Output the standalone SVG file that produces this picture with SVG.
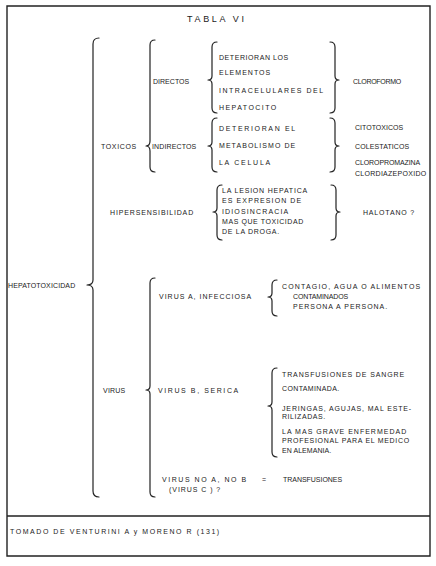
<svg xmlns="http://www.w3.org/2000/svg" width="436" height="566" viewBox="0 0 436 566">
<style>
text{font-family:"Liberation Sans",Arial,sans-serif;font-size:7px;fill:#222;letter-spacing:0.8px}
.t{font-size:9px;letter-spacing:3px}
.b{fill:none;stroke:#222;stroke-width:1.2;stroke-linecap:round;stroke-linejoin:round}
.f{fill:none;stroke:#222;stroke-width:1.4}
</style>
<rect width="436" height="566" fill="#fff"/>
<g id="frame">
<path class="f" d="M7 6 H430 V556 H7 Z M7 516 H430"/>
</g>
<g id="title"><text class="t" x="187" y="22" textLength="60" lengthAdjust="spacing">TABLA VI</text></g>
<g id="connectors">
<path class="b" d="M99 38 Q93 38 93 44 L93 280 Q93 285 87 285 Q93 285 93 290 L93 491 Q93 497 99 497"/>
<path class="b" d="M155 40 Q150 40 150 45 L150 141 Q150 146 146 146 Q150 146 150 151 L150 167 Q150 172 155 172"/>
<path class="b" d="M217 42 Q212 42 212 47 L212 76 Q212 80 208 80 Q212 80 212 84 L212 108 Q212 113 217 113"/>
<path class="b" d="M330 42 Q335 42 335 47 L335 76 Q335 80 339 80 Q335 80 335 84 L335 108 Q335 113 330 113"/>
<path class="b" d="M217 118 Q212 118 212 123 L212 142 Q212 146 208 146 Q212 146 212 150 L212 167 Q212 172 217 172"/>
<path class="b" d="M330 118 Q335 118 335 123 L335 142 Q335 146 339 146 Q335 146 335 150 L335 167 Q335 172 330 172"/>
<path class="b" d="M222 185 Q217 185 217 190 L217 208 Q217 212 213 212 Q217 212 217 216 L217 235 Q217 240 222 240"/>
<path class="b" d="M331 185 Q336 185 336 190 L336 208 Q336 212 340 212 Q336 212 336 216 L336 235 Q336 240 331 240"/>
<path class="b" d="M155 278 Q150 278 150 283 L150 386 Q150 390 146 390 Q150 390 150 394 L150 492 Q150 497 155 497"/>
<path class="b" d="M277 280 Q272 280 272 285 L272 293 Q272 297 268 297 Q272 297 272 301 L272 311 Q272 316 277 316"/>
<path class="b" d="M277 368 Q272 368 272 373 L272 402 Q272 406 268 406 Q272 406 272 410 L272 452 Q272 457 277 457"/>
</g>
<g id="hepatotoxicidad"><text x="8" y="288" textLength="68" lengthAdjust="spacing">HEPATOTOXICIDAD</text></g>
<g id="toxicos"><text x="101" y="149" textLength="36" lengthAdjust="spacing">TOXICOS</text></g>
<g id="directos"><text x="153" y="84" textLength="37" lengthAdjust="spacing">DIRECTOS</text></g>
<g id="directos-desc">
<text x="219" y="60" textLength="70" lengthAdjust="spacing">DETERIORAN LOS</text>
<text x="219" y="75" textLength="52" lengthAdjust="spacing">ELEMENTOS</text>
<text x="219" y="93" textLength="105" lengthAdjust="spacing">INTRACELULARES DEL</text>
<text x="219" y="110" textLength="58" lengthAdjust="spacing">HEPATOCITO</text>
</g>
<g id="cloroformo"><text x="353" y="84" textLength="49" lengthAdjust="spacing">CLOROFORMO</text></g>
<g id="indirectos"><text x="152" y="149" textLength="45" lengthAdjust="spacing">INDIRECTOS</text></g>
<g id="indirectos-desc">
<text x="219" y="131" textLength="77" lengthAdjust="spacing">DETERIORAN EL</text>
<text x="219" y="148" textLength="77" lengthAdjust="spacing">METABOLISMO DE</text>
<text x="219" y="165" textLength="52" lengthAdjust="spacing">LA CELULA</text>
</g>
<g id="indirectos-ej">
<text x="355" y="130" textLength="49" lengthAdjust="spacing">CITOTOXICOS</text>
<text x="355" y="149" textLength="55" lengthAdjust="spacing">COLESTATICOS</text>
<text x="355" y="165" textLength="66" lengthAdjust="spacing">CLOROPROMAZINA</text>
<text x="355" y="176" textLength="72" lengthAdjust="spacing">CLORDIAZEPOXIDO</text>
</g>
<g id="hipersensibilidad"><text x="110" y="215" textLength="84" lengthAdjust="spacing">HIPERSENSIBILIDAD</text></g>
<g id="hipersensibilidad-desc">
<text x="222" y="193" textLength="86" lengthAdjust="spacing">LA LESION HEPATICA</text>
<text x="222" y="203" textLength="80" lengthAdjust="spacing">ES  EXPRESION DE</text>
<text x="222" y="214" textLength="67" lengthAdjust="spacing">IDIOSINCRACIA</text>
<text x="222" y="224" textLength="82" lengthAdjust="spacing">MAS QUE TOXICIDAD</text>
<text x="222" y="234" textLength="58" lengthAdjust="spacing">DE LA DROGA.</text>
</g>
<g id="halotano"><text x="363" y="215" textLength="52" lengthAdjust="spacing">HALOTANO ?</text></g>
<g id="virus"><text x="103" y="393" textLength="23" lengthAdjust="spacing">VIRUS</text></g>
<g id="virus-a"><text x="159" y="299" textLength="93" lengthAdjust="spacing">VIRUS A, INFECCIOSA</text></g>
<g id="virus-a-desc">
<text x="282" y="289" textLength="139" lengthAdjust="spacing">CONTAGIO, AGUA O ALIMENTOS</text>
<text x="293" y="299" textLength="56" lengthAdjust="spacing">CONTAMINADOS</text>
<text x="293" y="309" textLength="95" lengthAdjust="spacing">PERSONA A PERSONA.</text>
</g>
<g id="virus-b"><text x="158" y="393" textLength="81" lengthAdjust="spacing">VIRUS B, SERICA</text></g>
<g id="virus-b-desc">
<text x="282" y="377" textLength="123" lengthAdjust="spacing">TRANSFUSIONES DE SANGRE</text>
<text x="282" y="391" textLength="58" lengthAdjust="spacing">CONTAMINADA.</text>
<text x="282" y="411" textLength="130" lengthAdjust="spacing">JERINGAS, AGUJAS, MAL ESTE-</text>
<text x="282" y="419" textLength="44" lengthAdjust="spacing">RILIZADAS.</text>
<text x="282" y="434" textLength="125" lengthAdjust="spacing">LA MAS GRAVE ENFERMEDAD</text>
<text x="282" y="443" textLength="128" lengthAdjust="spacing">PROFESIONAL PARA EL MEDICO</text>
<text x="282" y="453" textLength="50" lengthAdjust="spacing">EN ALEMANIA.</text>
</g>
<g id="virus-noanob">
<text x="162" y="482" textLength="85" lengthAdjust="spacing">VIRUS NO A, NO B</text>
<text x="262" y="482">=</text>
<text x="283" y="482" textLength="60" lengthAdjust="spacing">TRANSFUSIONES</text>
<text x="169" y="492" textLength="52" lengthAdjust="spacing">(VIRUS C ) ?</text>
</g>
<g id="fuente"><text x="10" y="534" textLength="210" lengthAdjust="spacing">TOMADO DE VENTURINI A y MORENO R (131)</text></g>
</svg>
